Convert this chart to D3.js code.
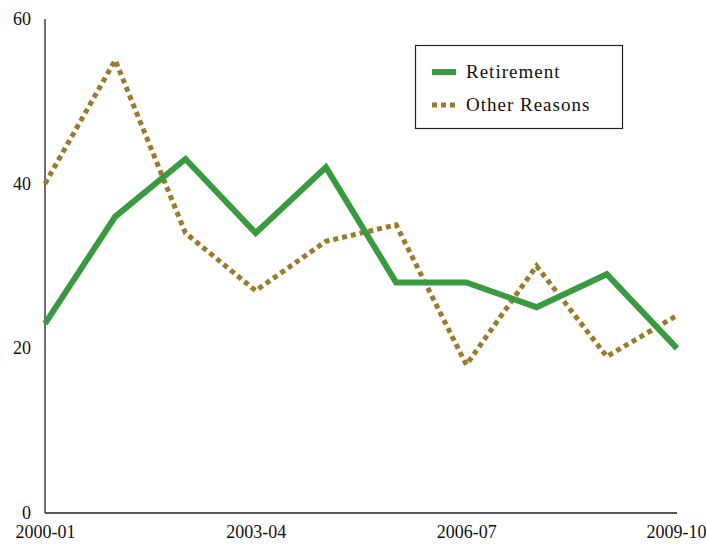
<!DOCTYPE html>
<html><head><meta charset="utf-8">
<script src="https://cdn.jsdelivr.net/npm/d3@7"></script>
<style>body{margin:0;background:#fff}svg{display:block}
svg text{font-family:"Liberation Serif","DejaVu Serif",serif !important;}</style>
</head><body>
<svg id="c" width="706" height="544"></svg>
<script>
const categories = ["2000-01","2001-02","2002-03","2003-04","2004-05","2005-06","2006-07","2007-08","2008-09","2009-10"];
const retirement = [23,36,43,34,42,28,28,25,29,20];
const otherReasons = [40,55,34,27,33,35,18,30,19,24];
const yTicks = [0,20,40,60];
const xTickLabels = ["2000-01","2003-04","2006-07","2009-10"];

const svg = d3.select("#c");
const x = d3.scalePoint().domain(categories).range([45,677]);
const y = d3.scaleLinear().domain([0,60]).range([513,19]);

const yAxis = svg.append("g").attr("transform","translate(45,0)")
  .call(d3.axisLeft(y).tickValues(yTicks).tickSize(0).tickPadding(14));
const xAxis = svg.append("g").attr("transform","translate(0,513)")
  .call(d3.axisBottom(x).tickValues(xTickLabels).tickSize(0).tickPadding(12));
[yAxis,xAxis].forEach(g=>{
  g.attr("font-family",null);
  g.selectAll("path").attr("stroke","#222").attr("stroke-width",1.3);
  g.selectAll("text").attr("font-size",18).attr("fill","#111");
});
yAxis.selectAll("text").attr("dy","0.3em");
xAxis.selectAll("text").attr("dy","0.72em");
xAxis.selectAll(".tick:last-of-type text").attr("text-anchor","end").attr("dx",29);
xAxis.select("path").attr("d","M45,0H677");
yAxis.select("path").attr("d","M0,19V513");

const line = d3.line().x((d,i)=>x(categories[i])).y(d=>y(d));
svg.append("path").datum(otherReasons).attr("d",line).attr("fill","none")
  .attr("stroke","#9c7a2a").attr("stroke-width",5).attr("stroke-dasharray","5,4");
svg.append("path").datum(retirement).attr("d",line).attr("fill","none")
  .attr("stroke","#3a9a40").attr("stroke-width",6).attr("stroke-linejoin","miter");

// legend
const lg = svg.append("g");
lg.append("rect").attr("x",415.5).attr("y",45.5).attr("width",207).attr("height",83)
  .attr("fill","#fff").attr("stroke","#222").attr("stroke-width",1.2);
const items = [["Retirement","#3a9a40",null,6],["Other Reasons","#9c7a2a","5,4",5]];
items.forEach((it,i)=>{
  const yy = 72 + i*33;
  lg.append("line").attr("x1",432).attr("x2",456).attr("y1",yy).attr("y2",yy)
    .attr("stroke",it[1]).attr("stroke-width",it[3]).attr("stroke-dasharray",it[2]);
  lg.append("text").attr("x",466).attr("y",yy).attr("dy","0.33em").text(it[0])
    .attr("font-size",19).attr("letter-spacing",1).attr("fill","#111");
});
</script>
</body></html>
